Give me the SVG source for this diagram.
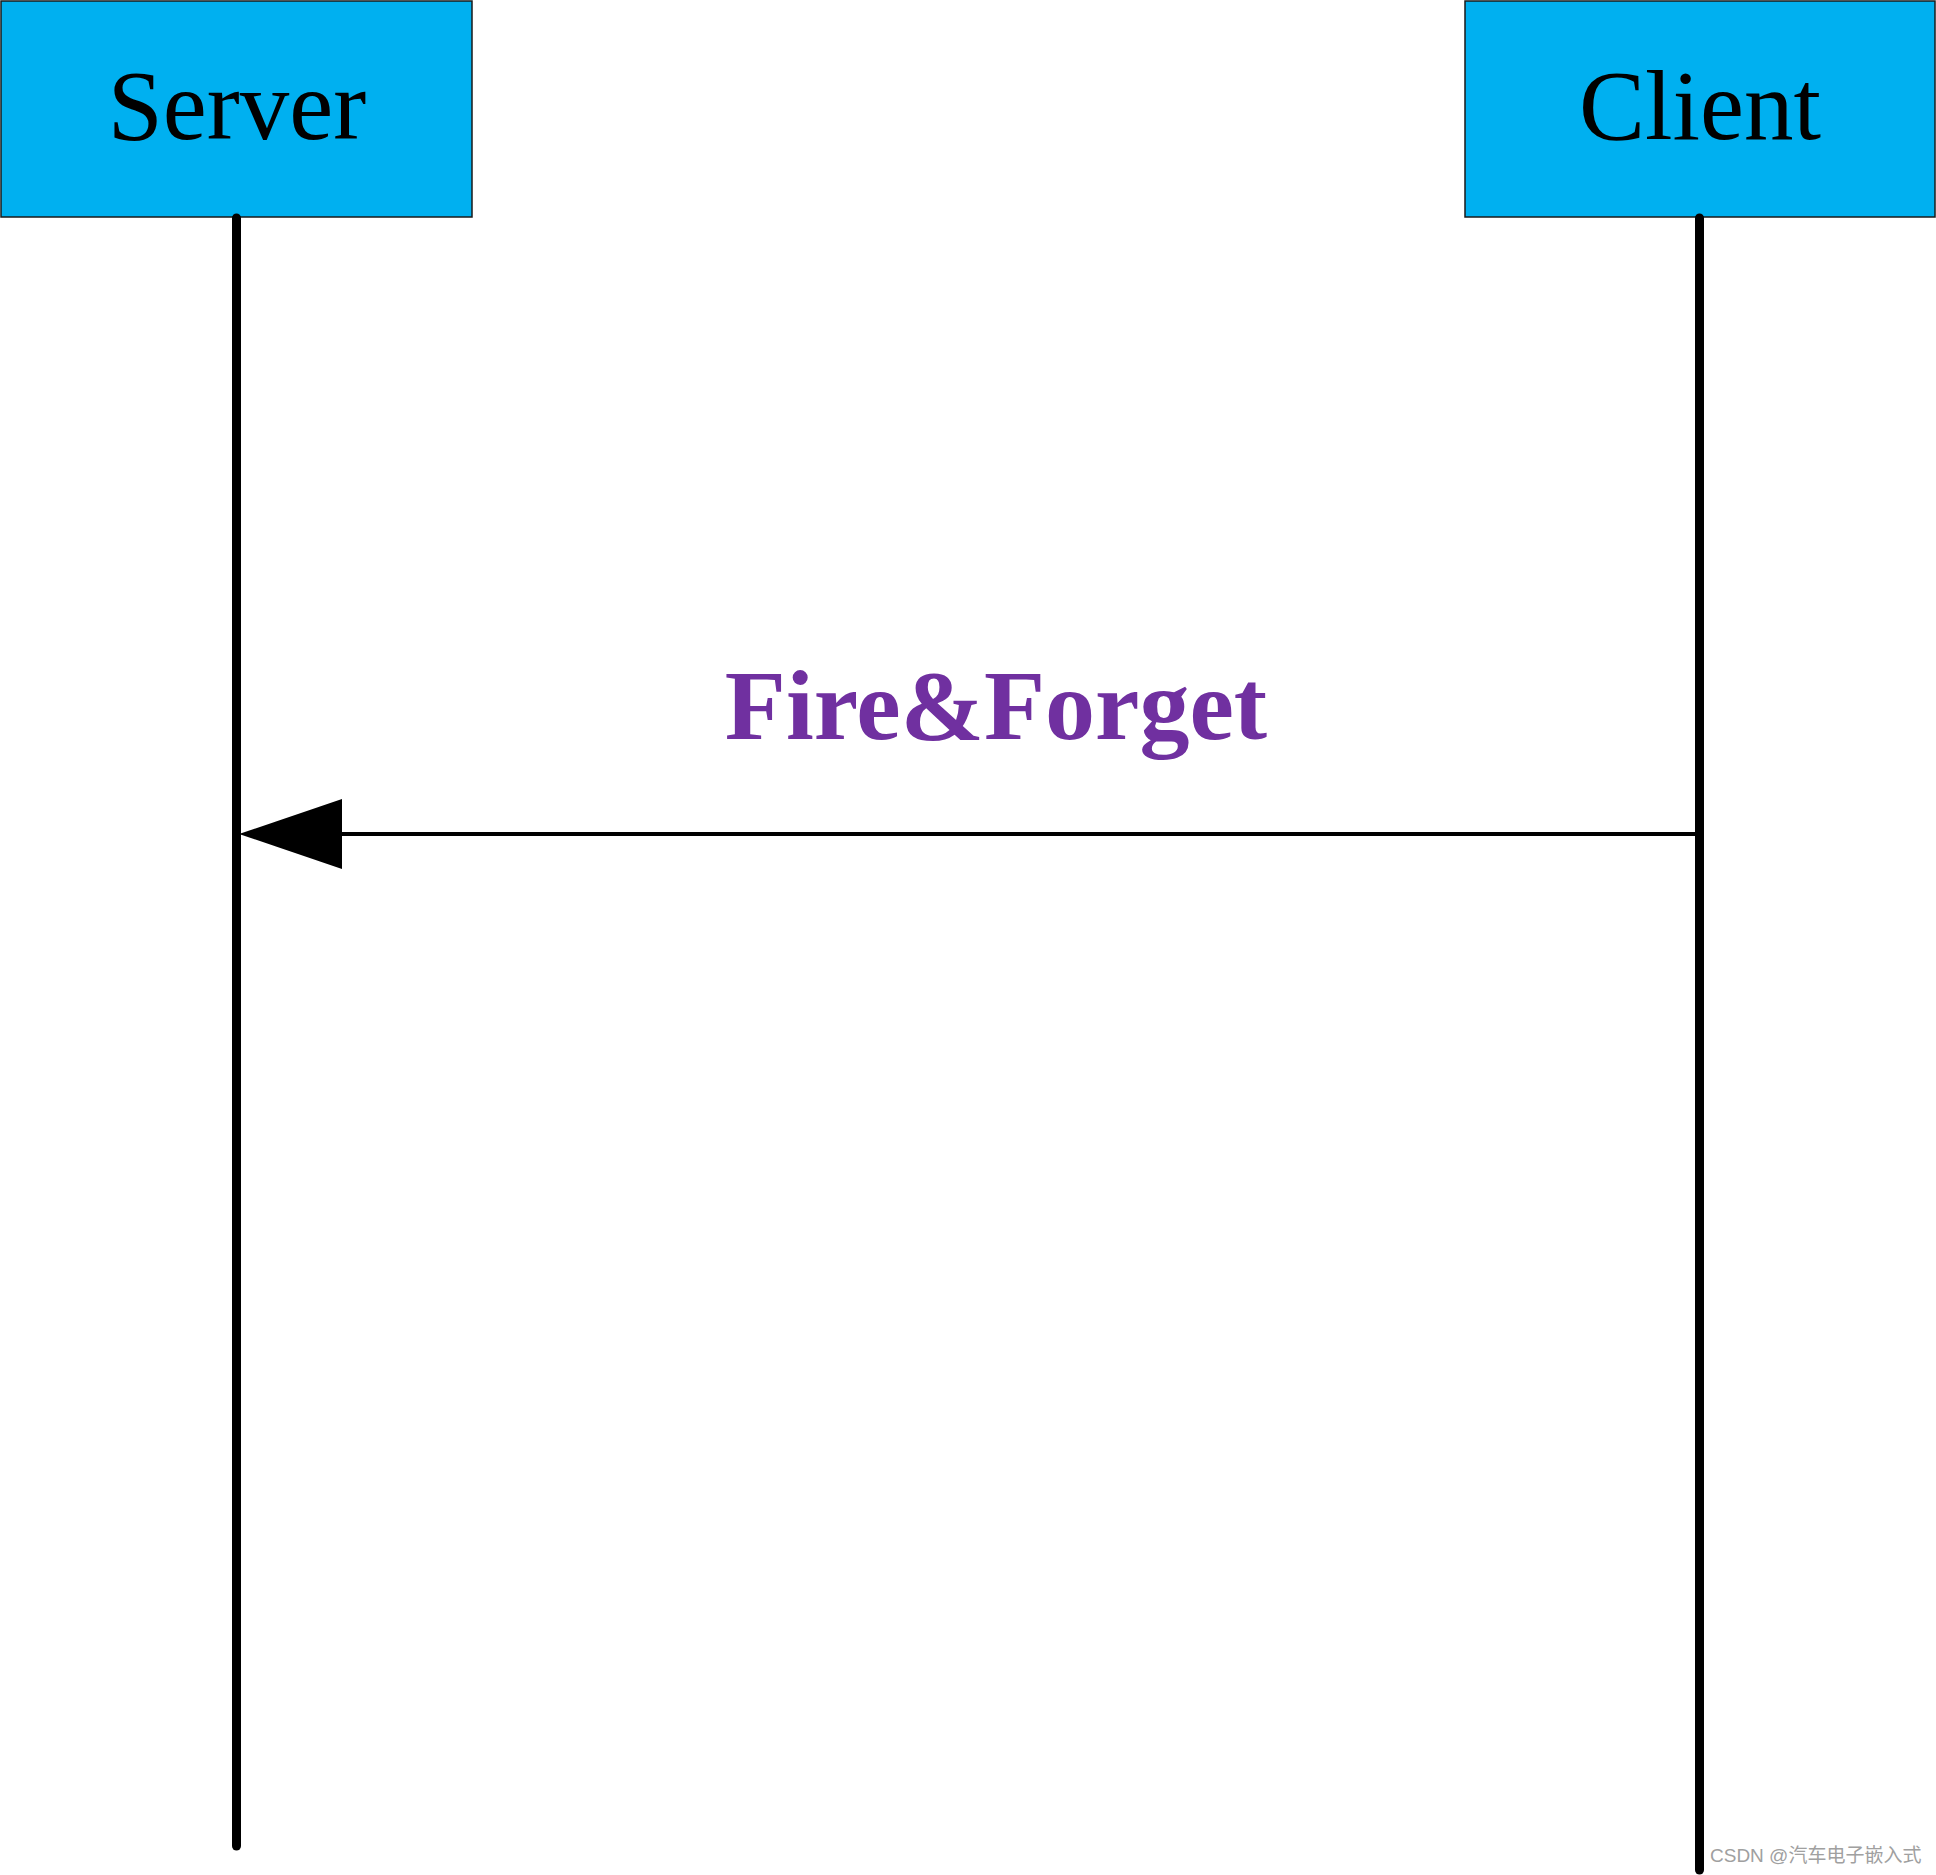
<svg xmlns="http://www.w3.org/2000/svg" width="1936" height="1875" viewBox="0 0 1936 1875">
<style>
.box{fill:#00B0F0;stroke:#1a1a1a;stroke-width:1.5}
.lbl{font-family:"Liberation Serif","Times New Roman",serif;font-size:99px;fill:#000;text-anchor:middle}
.life{stroke:#000;stroke-width:9;stroke-linecap:round;fill:none}
.msg{stroke:#000;stroke-width:4;fill:none}
.mlbl{font-family:"Liberation Serif","Times New Roman",serif;font-size:100px;font-weight:bold;fill:#7030A0;text-anchor:middle}
.wm{font-family:"Liberation Sans","Noto Sans CJK SC",sans-serif;font-size:19px;fill:#a0a0a0}
</style>
<rect width="1936" height="1875" fill="#fff"/>
<g id="server">
<rect class="box" x="1" y="1" width="471" height="216"/>
<text class="lbl" x="237" y="139">Server</text>
</g>
<g id="client">
<rect class="box" x="1465" y="1" width="470" height="216"/>
<text class="lbl" x="1700" y="139">Client</text>
</g>
<g id="connectors">
<line class="life" x1="236.5" y1="218" x2="236.5" y2="1846"/>
<line class="life" x1="1699.5" y1="218" x2="1699.5" y2="1870"/>
<line class="msg" x1="1697" y1="834" x2="330" y2="834"/>
<polygon points="239,834 342,799 342,869" fill="#000"/>
<text class="mlbl" x="996" y="739">Fire&amp;Forget</text>
</g>
<text class="wm" x="1710" y="1862">CSDN @汽车电子嵌入式</text>
</svg>
